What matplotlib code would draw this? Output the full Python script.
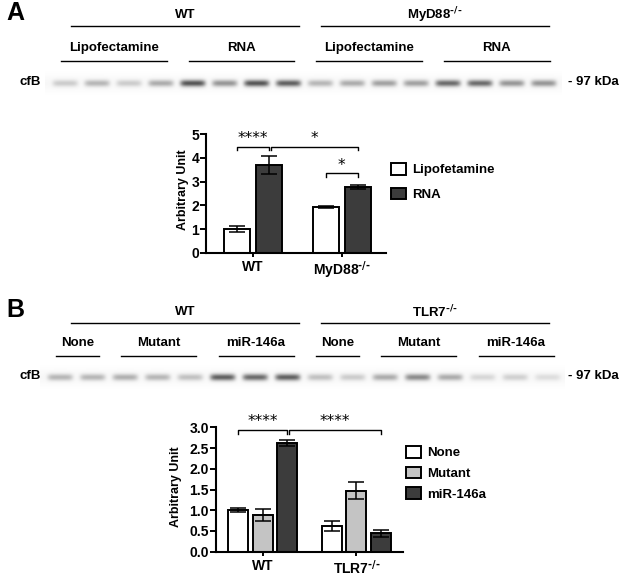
import numpy as np
import matplotlib
matplotlib.use('Agg')
import matplotlib.pyplot as plt
from matplotlib.ticker import FormatStrFormatter

plt.rcParams['font.family'] = ['Liberation Sans', 'DejaVu Sans']
plt.rcParams['font.weight'] = 'bold'
plt.rcParams['axes.labelweight'] = 'bold'
plt.rcParams['mathtext.default'] = 'bf'

# ---------------- data: panel A ----------------
a_genotypes = ['WT', r'MyD88$^{\text{-/-}}$']
a_treatments = ['Lipofectamine', 'RNA', 'Lipofectamine', 'RNA']
a_lanes = [4, 4, 4, 4]
a_bands = [0.20, 0.30, 0.20, 0.35, 0.75, 0.45, 0.75, 0.70,
           0.30, 0.35, 0.40, 0.40, 0.65, 0.65, 0.45, 0.45]
a_series = ['Lipofetamine', 'RNA']
a_vals = [[1.00, 1.92], [3.72, 2.78]]
a_errs = [[0.12, 0.05], [0.38, 0.08]]
a_colors = ['white', '#3c3c3c']
# (group, series) pairs, label, height
a_sig = [((0, 0), (0, 1), '****', 4.47),
         ((0, 1), (1, 1), '*', 4.47),
         ((1, 0), (1, 1), '*', 3.35)]

# ---------------- data: panel B ----------------
b_genotypes = ['WT', r'TLR7$^{\text{-/-}}$']
b_treatments = ['None', 'Mutant', 'miR-146a', 'None', 'Mutant', 'miR-146a']
b_lanes = [2, 3, 3, 2, 3, 3]
b_bands = [0.30, 0.30, 0.33, 0.30, 0.25, 0.70, 0.65, 0.70,
           0.25, 0.20, 0.35, 0.50, 0.35, 0.15, 0.18, 0.12]
b_series = ['None', 'Mutant', 'miR-146a']
b_vals = [[1.00, 0.61], [0.88, 1.47], [2.63, 0.44]]
b_errs = [[0.05, 0.12], [0.14, 0.20], [0.07, 0.08]]
b_colors = ['white', '#c4c4c4', '#3c3c3c']
b_sig = [((0, 0), (0, 2), '****', 2.94),
         ((0, 2), (1, 2), '****', 2.94)]

W, H = 624, 577
fig = plt.figure(figsize=(W / 100, H / 100), dpi=100)
ov = fig.add_axes([0, 0, 1, 1])
ov.set_xlim(0, W)
ov.set_ylim(H, 0)
ov.set_axis_off()


def blot(bands, x0, dx, yc, xl, xr):
    xs = np.arange(xl, xr, 0.5)
    ys = np.arange(yc - 14, yc + 14, 0.5)
    X, Y = np.meshgrid(xs, ys)
    # faint haze along the band row
    img = 1.0 - 0.03 * np.exp(-((Y - yc) / 8) ** 2)
    for i, v in enumerate(bands):
        xc = x0 + i * dx
        img -= 0.85 * v * np.exp(-((X - xc) / 12.5) ** 6) * np.exp(-((Y - yc) / 3.3) ** 2)
    ov.imshow(np.clip(img, 0, 1), cmap='gray', vmin=0, vmax=1, aspect='auto',
              extent=(xl, xr, yc + 14, yc - 14), interpolation='bilinear', zorder=1)


def blot_labels(genos, treats, lanes, x0, dx, ytop, ysub, yband, letter):
    ov.text(6, ytop - 2, letter, fontsize=18, fontweight='bold',
            va='center', ha='left')
    for g, name in enumerate(genos):
        a, b = 71 + g * 250, 299 + g * 250
        ov.plot([a, b], [ytop + 11, ytop + 11], color='black', lw=1)
        ov.text((a + b) / 2, ytop, name, fontsize=9.5, ha='center', va='center')
    start = 0
    for name, n in zip(treats, lanes):
        a = x0 + start * dx - 4
        b = x0 + (start + n - 1) * dx + 6
        ov.plot([a, b], [ysub + 13, ysub + 13], color='black', lw=1)
        ov.text((a + b) / 2, ysub, name, fontsize=9.5, ha='center', va='center')
        start += n
    ov.text(20, yband - 1, 'cfB', fontsize=9.5, ha='left', va='center')
    ov.text(568, yband - 1, '- 97 kDa', fontsize=9.5, ha='left', va='center')


blot(a_bands, 65, 31.9, 83, 45, 562)
blot_labels(a_genotypes, a_treatments, a_lanes, 65, 31.9, 15, 48, 83, 'A')
blot(b_bands, 60, 32.5, 377, 40, 565)
blot_labels(b_genotypes, b_treatments, b_lanes, 60, 32.5, 312, 343, 377, 'B')


def bar_panel(rect, xlim, ylim, genos, series, vals, errs, colors, width, offs,
              sig, yticks, fmt, ylab_xy, leg_xy, leg_space):
    ax = fig.add_axes(rect)
    x = np.arange(len(genos))
    pos = {}
    for s, name in enumerate(series):
        xp = x + offs[s]
        ax.bar(xp, vals[s], width, yerr=errs[s], color=colors[s], edgecolor='black',
               linewidth=1.4, label=name, capsize=5.5,
               error_kw=dict(elinewidth=1.1, capthick=1.1, ecolor='black'))
        for g in range(len(genos)):
            pos[(g, s)] = xp[g]
    drop = ylim[1] * 0.03
    for k, (p1, p2, lab, h) in enumerate(sig):
        x1, x2 = pos[p1], pos[p2]
        if k > 0 and p1 == sig[k - 1][1]:
            x1 += 0.025
        ax.plot([x1, x1, x2, x2], [h - drop, h, h, h - drop], color='black', lw=1,
                clip_on=False)
        ax.text((x1 + x2) / 2, h + drop * 0.1, lab, ha='center', va='bottom',
                fontsize=11, fontweight='normal', family='DejaVu Sans', clip_on=False)
    ax.set_xlim(*xlim)
    ax.set_ylim(*ylim)
    ax.set_yticks(yticks)
    ax.yaxis.set_major_formatter(FormatStrFormatter(fmt))
    ax.set_xticks(x, genos)
    for sp in ['top', 'right']:
        ax.spines[sp].set_visible(False)
    for sp in ['left', 'bottom']:
        ax.spines[sp].set_linewidth(1.5)
    ax.tick_params(axis='y', length=4, width=1.4, labelsize=10, pad=1)
    ax.tick_params(axis='x', length=3, width=1.4, labelsize=10, pad=2)
    for t in ax.get_xticklabels() + ax.get_yticklabels():
        t.set_fontweight('bold')
    ax.set_ylabel('Arbitrary Unit', fontsize=9)
    ax.yaxis.set_label_coords(*ylab_xy)
    leg = ax.legend(loc='upper left', bbox_to_anchor=leg_xy, bbox_transform=fig.transFigure,
                    frameon=False, fontsize=9.5, handlelength=1.1, handleheight=1.0,
                    handletextpad=0.5, labelspacing=leg_space, borderpad=0, borderaxespad=0)
    for t in leg.get_texts():
        t.set_fontweight('bold')
    return ax


bar_panel([206 / W, 1 - 252.7 / H, 180 / W, 118.4 / H], (-0.53, 1.50), (0, 5),
          a_genotypes, a_series, a_vals, a_errs, a_colors, 0.294, [-0.181, 0.181],
          a_sig, [0, 1, 2, 3, 4, 5], '%d', (-0.094, 0.53),
          (391 / W, 1 - 163 / H), 0.85)

bar_panel([216 / W, 1 - 551.7 / H, 187 / W, 124.4 / H], (-0.495, 1.495), (0, 3),
          b_genotypes, b_series, b_vals, b_errs, b_colors, 0.213, [-0.26, 0, 0.26],
          b_sig, [0, 0.5, 1.0, 1.5, 2.0, 2.5, 3.0], '%.1f', (-0.18, 0.52),
          (406 / W, 1 - 446 / H), 0.55)

fig.savefig('out.png', dpi=100)
